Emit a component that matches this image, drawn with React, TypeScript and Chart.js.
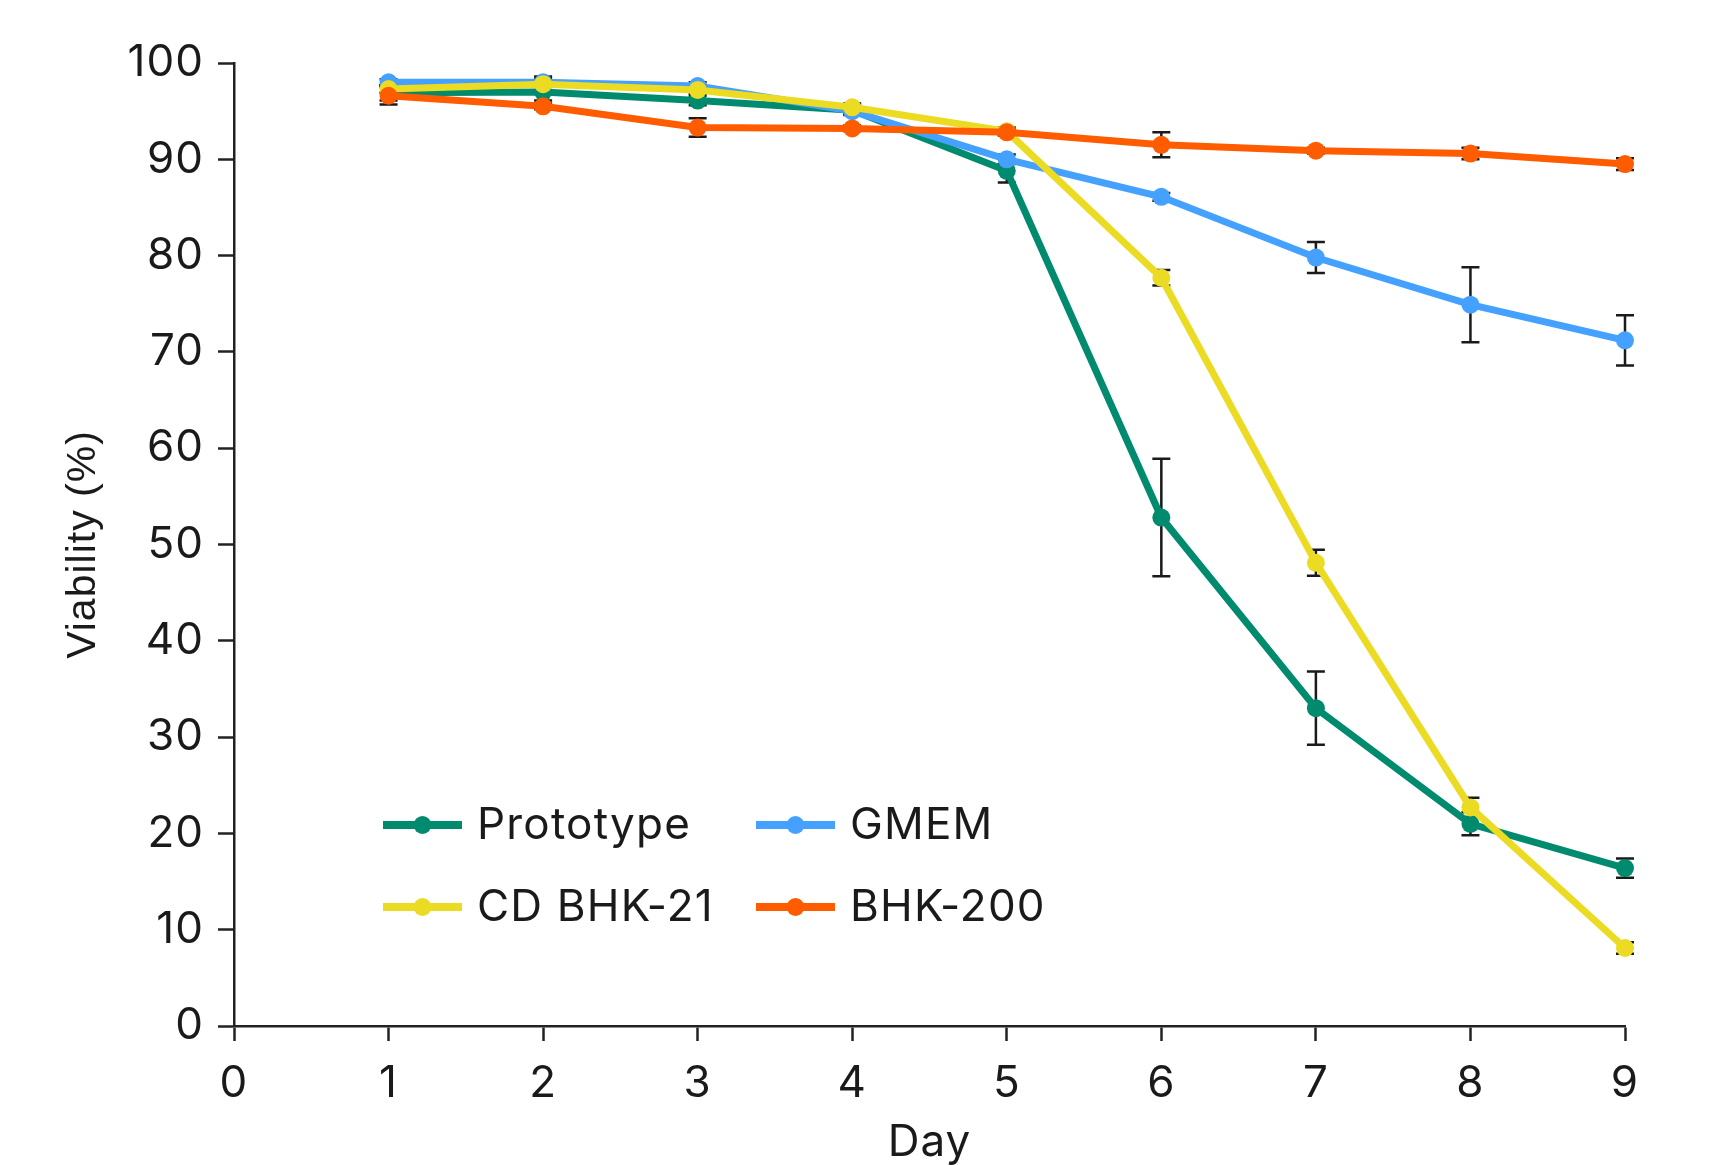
import React, { useEffect, useRef } from "react";
import { Chart, registerables } from "chart.js";

Chart.register(...registerables);

const days = [1, 2, 3, 4, 5, 6, 7, 8, 9];
const xTickLabels = ["0", "1", "2", "3", "4", "5", "6", "7", "8", "9"];

const seriesNames = ["Prototype", "GMEM", "CD BHK-21", "BHK-200"];
const seriesColors = ["#008B6E", "#45A1FF", "#EBDB22", "#FF5C00"];

const prototypeValues = [96.9, 97.0, 96.1, 95.1, 88.8, 52.8, 33.0, 21.0, 16.4];
const prototypeErr = [0.8, 0.9, 0.5, 0.4, 1.2, 6.1, 3.8, 1.2, 1.0];
const gmemValues = [98.0, 98.0, 97.6, 95.0, 90.0, 86.1, 79.8, 74.9, 71.2];
const gmemErr = [0.3, 0.4, 0.4, 0.4, 0.5, 0.4, 1.6, 3.9, 2.6];
const cdValues = [97.3, 97.8, 97.2, 95.4, 92.9, 77.7, 48.1, 22.7, 8.1];
const cdErr = [0.4, 0.8, 0.4, 0.4, 0.4, 0.8, 1.35, 1.0, 0.6];
const bhkValues = [96.6, 95.5, 93.3, 93.2, 92.8, 91.5, 90.9, 90.6, 89.5];
const bhkErr = [0.9, 0.3, 0.95, 0.3, 0.3, 1.3, 0.3, 0.6, 0.6];

const allValues = [prototypeValues, gmemValues, cdValues, bhkValues];
const allErrors = [prototypeErr, gmemErr, cdErr, bhkErr];
const drawOrder = [3, 2, 1, 0];

const TEXT = "#1a1a1a";
const AXIS = "#222222";

const spacingPlugin = {
  id: "letterSpacing",
  beforeDraw(chart: any) {
    (chart.ctx as any).letterSpacing = "1px";
  },
};

const errorBarPlugin = {
  id: "errorBars",
  beforeDatasetsDraw(chart: any) {
    const { ctx, scales } = chart;
    const xs = scales.x;
    const ys = scales.y;
    ctx.save();
    ctx.strokeStyle = "#1a1a1a";
    ctx.lineWidth = 2.5;
    chart.data.datasets.forEach((ds: any) => {
      const errs: number[] = ds.errors || [];
      ds.data.forEach((pt: any, i: number) => {
        const e = errs[i];
        if (!e) return;
        const px = xs.getPixelForValue(pt.x);
        const top = ys.getPixelForValue(pt.y + e);
        const bot = ys.getPixelForValue(pt.y - e);
        const cap = 9;
        ctx.beginPath();
        ctx.moveTo(px, top);
        ctx.lineTo(px, bot);
        ctx.moveTo(px - cap, top);
        ctx.lineTo(px + cap, top);
        ctx.moveTo(px - cap, bot);
        ctx.lineTo(px + cap, bot);
        ctx.stroke();
      });
    });
    ctx.restore();
  },
};

const legendPlugin = {
  id: "customLegend",
  afterDraw(chart: any) {
    const { ctx } = chart;
    const cols = [383, 756];
    const rows = [825, 907];
    const lineLen = 79;
    const textGap = 94;
    ctx.save();
    ctx.letterSpacing = "1.2px";
    ctx.font = "44px Inter";
    ctx.textBaseline = "middle";
    ctx.textAlign = "left";
    chart.data.datasets.forEach((ds: any, i: number) => {
      const cx = cols[i % 2];
      const cy = rows[Math.floor(i / 2)];
      ctx.strokeStyle = ds.borderColor;
      ctx.lineWidth = 8;
      ctx.beginPath();
      ctx.moveTo(cx, cy);
      ctx.lineTo(cx + lineLen, cy);
      ctx.stroke();
      ctx.fillStyle = ds.borderColor;
      ctx.beginPath();
      ctx.arc(cx + lineLen / 2, cy, 9, 0, Math.PI * 2);
      ctx.fill();
      ctx.fillStyle = TEXT;
      ctx.fillText(ds.label, cx + textGap, cy + 1);
    });
    ctx.restore();
  },
};

export default function App() {
  const canvasRef = useRef<HTMLCanvasElement | null>(null);

  useEffect(() => {
    if (!canvasRef.current) return;
    const datasets = seriesNames.map((name, i) => ({
      label: name,
      data: days.map((d, j) => ({ x: d, y: allValues[i][j] })),
      errors: allErrors[i],
      borderColor: seriesColors[i],
      backgroundColor: seriesColors[i],
      pointBackgroundColor: seriesColors[i],
      pointBorderWidth: 0,
      pointRadius: 9,
      borderWidth: 7,
      tension: 0,
      order: drawOrder[i],
      clip: false as any,
    }));

    const chart = new Chart(canvasRef.current, {
      type: "line",
      data: { datasets: datasets as any },
      plugins: [spacingPlugin, errorBarPlugin, legendPlugin],
      options: {
        animation: false,
        responsive: false,
        maintainAspectRatio: false,
        layout: { padding: { top: 63, right: 89, bottom: 0, left: 0 } },
        plugins: {
          legend: { display: false },
          tooltip: { enabled: false },
        },
        scales: {
          x: {
            type: "linear",
            min: 0,
            max: 9,
            afterFit: (scale: any) => {
              scale.height = 139;
            },
            afterBuildTicks: (scale: any) => {
              scale.ticks = xTickLabels.map((t) => ({ value: Number(t) }));
            },
            border: { display: true, color: AXIS, width: 2.5 },
            grid: {
              drawOnChartArea: false,
              drawTicks: true,
              tickLength: 15,
              tickWidth: 2.5,
              tickColor: AXIS,
            },
            ticks: {
              padding: 16,
              color: TEXT,
              font: { family: "Inter", size: 44 },
              callback: (v: any) => String(v),
            },
            title: {
              display: true,
              text: "Day",
              color: TEXT,
              font: { family: "Inter", size: 44, lineHeight: 1 },
              padding: { top: 0, bottom: 0 },
            },
          },
          y: {
            type: "linear",
            min: 0,
            max: 100,
            afterFit: (scale: any) => {
              scale.width = 234;
            },
            border: { display: true, color: AXIS, width: 2.5 },
            grid: {
              drawOnChartArea: false,
              drawTicks: true,
              tickLength: 16,
              tickWidth: 2.5,
              tickColor: AXIS,
            },
            ticks: {
              stepSize: 10,
              padding: 14,
              color: TEXT,
              font: { family: "Inter", size: 44 },
            },
            title: {
              display: true,
              text: "Viability (%)",
              color: TEXT,
              font: { family: "Liberation Sans", size: 41, lineHeight: 1 },
              padding: { top: 63, bottom: 0 },
            },
          },
        },
      },
    });
    return () => chart.destroy();
  }, []);

  return (
    <div style={{ position: "absolute", left: 0, top: 0, width: 1714, height: 1165, background: "#fff" }}>
      <canvas ref={canvasRef} width={1714} height={1165} style={{ width: 1714, height: 1165, display: "block" }} />
    </div>
  );
}
